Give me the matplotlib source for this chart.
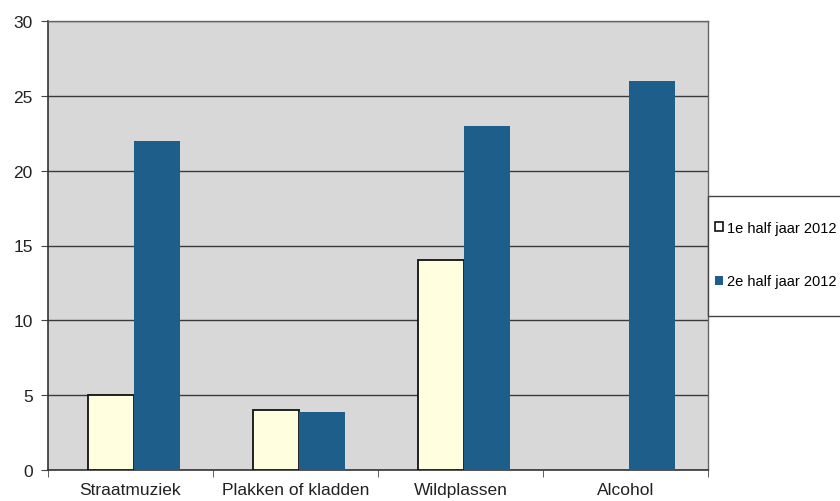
import matplotlib
matplotlib.use("Agg")
import matplotlib.pyplot as plt
import numpy as np
from matplotlib.patches import Patch, Rectangle

plt.rcParams['font.family'] = ['Liberation Sans', 'DejaVu Sans']

categories = ["Straatmuziek", "Plakken of kladden", "Wildplassen", "Alcohol"]
first_half = [5, 4, 14, 0]
second_half = [22, 3.9, 23, 26]
series_labels = ["1e half jaar 2012", "2e half jaar 2012"]

fig = plt.figure(figsize=(8.4, 5.02), dpi=100)
ax = fig.add_axes([48/840, 31/502, 660/840, 449/502])
ax.set_facecolor("#d8d8d8")

x = np.arange(len(categories))
w = 0.28
fh = np.array(first_half, dtype=float)
mask = fh > 0
ax.bar(x[mask] - w/2 + 0.02, fh[mask], w, color="#ffffe0", edgecolor="#111111", linewidth=1.3, zorder=3)
ax.bar(x + w/2 + 0.02, second_half, w, color="#1d5e8a", edgecolor="none", zorder=3)

ax.set_xlim(-0.5, 3.5)
ax.set_ylim(0, 30)
ax.set_yticks(range(0, 31, 5))
ax.yaxis.grid(True, color="#3a3a3a", linewidth=1.0, zorder=1)
ax.set_xticks(x)
ax.set_xticklabels(categories, fontsize=12.5, color="#222222")
ax.tick_params(axis="x", length=0, pad=9)
ax.set_xticks(np.arange(-0.5, 4.0, 1.0), minor=True)
ax.tick_params(axis="x", which="minor", length=5, color="#444444")
ax.tick_params(axis="y", labelsize=12.5, length=5, color="#444444", labelcolor="#222222", pad=6)
for s in ["top", "right"]:
    ax.spines[s].set_color("#666666")
    ax.spines[s].set_linewidth(1.0)
ax.spines["left"].set_color("#333333")
ax.spines["bottom"].set_color("#333333")
ax.spines["left"].set_linewidth(1.2)
ax.spines["bottom"].set_linewidth(1.2)

fig.patches.append(Rectangle((708/840, 1 - 317/502), 140/840, 120/502,
                             transform=fig.transFigure, facecolor="white",
                             edgecolor="#444444", linewidth=1.0, zorder=0))
handles = [Patch(facecolor="#ffffff", edgecolor="#111111", linewidth=1.2),
           Patch(facecolor="#1d5e8a", edgecolor="none")]
leg = fig.legend(handles, series_labels, loc="upper left",
                 bbox_to_anchor=(712/840, 1 - 219/502), fontsize=10.5,
                 handlelength=0.55, handleheight=0.55, handletextpad=0.3,
                 labelspacing=2.7, borderpad=0.2, frameon=False, borderaxespad=0)

fig.savefig("out.png", dpi=100)
